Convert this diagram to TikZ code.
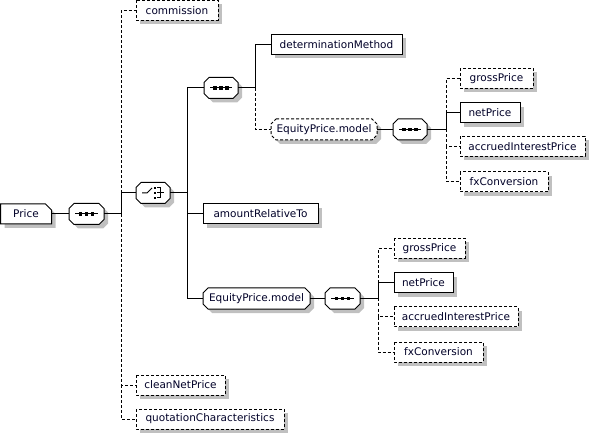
\documentclass[tikz,border=0pt]{standalone}
\usepackage{fontspec}
\setmainfont{DejaVu Sans}
\definecolor{textc}{RGB}{0,0,40}
\definecolor{shadowg}{RGB}{192,192,192}
% octagon path (height 21, chamfer 5): start point #1,#2 = (left+5, top), #3 = width-10
\newcommand\octp[3]{(#1,#2) -- ++(#3,0) -- ++(5,5) -- ++(0,11) -- ++(-5,5) -- ++(-#3,0) -- ++(-5,-5) -- ++(0,-11) -- cycle}
\newcommand\seqmark[1]{%
  \draw[line width=1pt] ([xshift=6pt]#1.west) -- ([xshift=-6pt]#1.east);
  \foreach \dx in {-6,0,6}{\fill ([xshift=\dx pt-1.6pt,yshift=-1.6pt]#1.center) rectangle ++(3.2pt,3.2pt);}}
\newcommand\choicemark[1]{%
  \draw[line width=1pt] ([xshift=-11pt]#1.center) -- ([xshift=-6pt]#1.center) -- ([xshift=-1pt,yshift=5pt]#1.center);
  \foreach \dy in {-5,0,5}{\fill ([xshift=0.5pt,yshift=\dy pt-1.2pt]#1.center) rectangle ++(2.4pt,2.4pt);}
  \draw[line width=1pt] ([xshift=4pt,yshift=5pt]#1.center) -- ([xshift=7pt,yshift=5pt]#1.center)
     ([xshift=4pt,yshift=-5pt]#1.center) -- ([xshift=7pt,yshift=-5pt]#1.center)
     ([xshift=7pt,yshift=5.5pt]#1.center) -- ([xshift=7pt,yshift=-5.5pt]#1.center)
     ([xshift=4pt]#1.center) -- ([xshift=11pt]#1.center);}
\begin{document}
\begin{tikzpicture}[x=1pt,y=-1pt,
  every node/.style={font=\fontsize{10.5}{12}\selectfont, text=textc},
  base/.style={inner sep=0pt, outer sep=0pt, anchor=west, minimum height=20pt},
  oct/.style={base, minimum height=21pt},
  shadowc/.style={fill=shadowg},
  solidline/.style={line width=1pt, fill=white},
  dashline/.style={line width=1pt, fill=white, dash pattern=on 3pt off 2pt},
  conn/.style={line width=1pt},
  optconn/.style={line width=1pt, dash pattern=on 3pt off 2pt},
]
\useasboundingbox (0,0) rectangle (591,435);

% ---- shadows and outlines ----
% root element
\fill[shadowc] (4.5,208) -- (4.5,228) -- (55.5,228) -- (55.5,214) -- (49.5,208) -- cycle;
\draw[solidline] (0.5,204) -- (0.5,224) -- (51.5,224) -- (51.5,210) -- (45.5,204) -- cycle;
% octagonal symbols and groups
\fill[shadowc] \octp{78}{207.5}{25};   \draw[solidline] \octp{74}{203.5}{25};
\fill[shadowc] \octp{145}{186.5}{24};  \draw[solidline] \octp{141}{182.5}{24};
\fill[shadowc] \octp{213}{81.5}{24};   \draw[solidline] \octp{209}{77.5}{24};
\fill[shadowc] \octp{212}{292}{97};    \draw[solidline] \octp{208}{288}{97};
\fill[shadowc] \octp{280}{123}{96};    \draw[dashline] \octp{276}{119}{96};
\fill[shadowc] \octp{402}{123}{24};    \draw[solidline] \octp{398}{119}{24};
\fill[shadowc] \octp{334}{292}{25};    \draw[solidline] \octp{330}{288}{25};
% element boxes
\fill[shadowc] (140,4.5) rectangle (222,24.5);    \draw[dashline] (136,0.5) rectangle (218,20.5);
\fill[shadowc] (140,379) rectangle (229,399);     \draw[dashline] (136,375) rectangle (225,395);
\fill[shadowc] (140,413) rectangle (288,433);     \draw[dashline] (136,409) rectangle (284,429);
\fill[shadowc] (207,208) rectangle (322,228);     \draw[solidline] (203,204) rectangle (318,224);
\fill[shadowc] (275,38.5) rectangle (406,58.5);   \draw[solidline] (271,34.5) rectangle (402,54.5);
\fill[shadowc] (464,72.5) rectangle (537,92.5);   \draw[dashline] (460,68.5) rectangle (533,88.5);
\fill[shadowc] (464,107) rectangle (524,127);     \draw[solidline] (460,103) rectangle (520,123);
\fill[shadowc] (464,140.5) rectangle (589,160.5); \draw[dashline] (460,136.5) rectangle (585,156.5);
\fill[shadowc] (464,176) rectangle (552,196);     \draw[dashline] (460,172) rectangle (548,192);
\fill[shadowc] (398,242.5) rectangle (469,262.5); \draw[dashline] (394,238.5) rectangle (465,258.5);
\fill[shadowc] (398,277) rectangle (457,297);     \draw[solidline] (394,273) rectangle (453,293);
\fill[shadowc] (398,310.5) rectangle (522,330.5); \draw[dashline] (394,306.5) rectangle (518,326.5);
\fill[shadowc] (398,346) rectangle (487,366);     \draw[dashline] (394,342) rectangle (483,362);

% ---- nodes (texts) ----
\node[base, minimum width=51pt] (price) at (0.5,214) {Price\hspace{8pt}};
\node[oct, minimum width=35pt] (seq1) at (69,214) {};
\node[base, minimum width=82pt] (comm) at (136,10.5) {commission};
\node[oct, minimum width=34pt] (choice) at (136,193) {};
\node[base, minimum width=89pt] (clean) at (136,385) {cleanNetPrice};
\node[base, minimum width=148pt] (quot) at (136,419) {quotationCharacteristics};
\node[oct, minimum width=34pt] (seq2) at (204,88) {};
\node[base, minimum width=115pt] (amount) at (203,214) {amountRelativeTo};
\node[oct, minimum width=107pt] (epm2) at (203,298.5) {EquityPrice.model};
\node[base, minimum width=131pt] (det) at (271,44.5) {determinationMethod};
\node[oct, minimum width=106pt] (epm1) at (271,129.5) {EquityPrice.model};
\node[oct, minimum width=34pt] (seq3) at (393,129.5) {};
\node[base, minimum width=73pt] (gross1) at (460,78.5) {grossPrice};
\node[base, minimum width=60pt] (net1) at (460,113) {netPrice};
\node[base, minimum width=125pt] (acc1) at (460,146.5) {accruedInterestPrice};
\node[base, minimum width=88pt] (fx1) at (460,182) {fxConversion};
\node[oct, minimum width=35pt] (seq4) at (325,298.5) {};
\node[base, minimum width=71pt] (gross2) at (394,248.5) {grossPrice};
\node[base, minimum width=59pt] (net2) at (394,283) {netPrice};
\node[base, minimum width=124pt] (acc2) at (394,316.5) {accruedInterestPrice};
\node[base, minimum width=89pt] (fx2) at (394,352) {fxConversion};

% symbols
\seqmark{seq1}\seqmark{seq2}\seqmark{seq3}\seqmark{seq4}
\choicemark{choice}

% junctions
\coordinate (t1) at (121,214);
\coordinate (t2) at (187,193);
\coordinate (t3) at (255,88);
\coordinate (t4) at (446,129.5);
\coordinate (t5) at (378,298.5);

% connectors
\draw[conn] (price.east) -- (seq1.west);
\draw[conn] (seq1.east) -- (t1);
\draw[conn] (t1) |- (choice.west);
\draw[optconn] (choice.west -| t1) |- (comm.west);
\draw[optconn] (t1) |- (clean.west);
\draw[optconn] (clean.west -| t1) |- (quot.west);

\draw[conn] (choice.east) -- (t2);
\draw[conn] (t2) |- (seq2.west);
\draw[conn] (t2) |- (amount.west);
\draw[conn] (t2) |- (epm2.west);

\draw[conn] (seq2.east) -- (t3);
\draw[conn] (t3) |- (det.west);
\draw[optconn] (t3) |- (epm1.west);

\draw[conn] (epm1.east) -- (seq3.west);
\draw[conn] (seq3.east) -- (t4);
\draw[conn] (t4) |- (net1.west);
\draw[optconn] (net1.west -| t4) |- (gross1.west);
\draw[optconn] (t4) |- (acc1.west);
\draw[optconn] (acc1.west -| t4) |- (fx1.west);

\draw[conn] (epm2.east) -- (seq4.west);
\draw[conn] (seq4.east) -- (t5);
\draw[conn] (t5) |- (net2.west);
\draw[optconn] (net2.west -| t5) |- (gross2.west);
\draw[optconn] (t5) |- (acc2.west);
\draw[optconn] (acc2.west -| t5) |- (fx2.west);
\end{tikzpicture}
\end{document}
